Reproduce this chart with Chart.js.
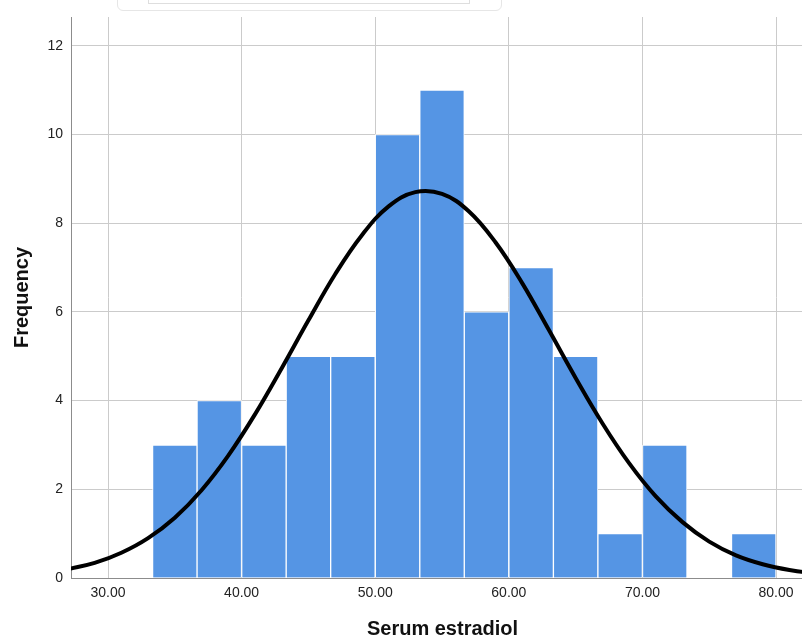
<!DOCTYPE html>
<html>
<head>
<meta charset="utf-8">
<script src="https://cdn.jsdelivr.net/npm/chart.js@4"></script>
<style>
  html, body { margin: 0; padding: 0; background: #fff; }
  #wrap { position: relative; width: 802px; height: 641px; overflow: hidden; }
  #chart { position: absolute; left: 0; top: 0; }
  .ghost { position: absolute; border: 1px solid #e6e6e6; }
</style>
</head>
<body>
<div id="wrap">
  <div class="ghost" style="left:117px; top:-12px; width:383px; height:21px; border-radius:6px;"></div>
  <div class="ghost" style="left:148px; top:-6px; width:320px; height:8px; border-color:#dedede;"></div>
  <canvas id="chart" width="814" height="641"></canvas>
</div>
<script>
// histogram bins (centres) and counts
const binCenters = [35, 38.33, 41.67, 45, 48.33, 51.67, 55, 58.33, 61.67, 65, 68.33, 71.67, 75, 78.33];
const binCounts = [3, 4, 3, 5, 5, 10, 11, 6, 7, 5, 1, 3, 0, 1];

// normal curve
const curveX = [27, 29, 31, 33, 35, 37, 39, 41, 43, 45, 47, 49, 51, 53, 55, 57, 59, 61, 63, 65, 67, 69, 71, 73, 75, 77, 79, 81, 83];
const curveY = [0.20, 0.34, 0.57, 0.90, 1.36, 1.98, 2.76, 3.69, 4.73, 5.81, 6.85, 7.73, 8.38, 8.70, 8.66, 8.27, 7.57, 6.65, 5.59, 4.51, 3.49, 2.59, 1.84, 1.26, 0.82, 0.51, 0.31, 0.18, 0.10];

const xTicks = [30, 40, 50, 60, 70, 80];
const yTicks = [0, 2, 4, 6, 8, 10, 12];

const font = "'Liberation Sans', Arial, sans-serif";

new Chart(document.getElementById("chart"), {
  data: {
    datasets: [
      {
        type: "line",
        data: curveX.map((x, i) => ({ x: x, y: curveY[i] })),
        borderColor: "#000",
        borderWidth: 4,
        pointRadius: 0,
        tension: 0.4,
        fill: false,
        order: 0
      },
      {
        type: "bar",
        data: binCenters.map((x, i) => ({ x: x, y: binCounts[i] })),
        backgroundColor: "#5595e4",
        borderColor: "#ffffff",
        borderWidth: 1,
        barPercentage: 1,
        categoryPercentage: 1,
        order: 1
      }
    ]
  },
  options: {
    responsive: false,
    animation: false,
    layout: { padding: { top: 17, left: 0, right: 0, bottom: 0 } },
    plugins: { legend: { display: false }, tooltip: { enabled: false } },
    scales: {
      x: {
        type: "linear",
        min: 27.23,
        max: 82.84,
        offset: false,
        afterBuildTicks: axis => { axis.ticks = xTicks.map(v => ({ value: v })); },
        afterFit: axis => { axis.height = 63; },
        grid: { color: "#cbcbcb", lineWidth: 1, drawTicks: false, offset: false },
        border: { display: true, color: "#8c8c8c", width: 1 },
        ticks: {
          color: "#222",
          font: { family: font, size: 14 },
          padding: 7,
          maxRotation: 0,
          callback: v => v.toFixed(2)
        },
        title: {
          display: true,
          text: "Serum estradiol",
          color: "#111",
          font: { family: font, size: 20, weight: "bold" },
          padding: { top: 0, bottom: 0 }
        }
      },
      y: {
        min: 0,
        max: 12.65,
        afterBuildTicks: axis => { axis.ticks = yTicks.map(v => ({ value: v })); },
        afterFit: axis => { axis.width = 71; },
        grid: { color: "#cbcbcb", lineWidth: 1, drawTicks: false },
        border: { display: true, color: "#8c8c8c", width: 1 },
        ticks: {
          color: "#222",
          font: { family: font, size: 14 },
          padding: 8
        },
        title: {
          display: true,
          text: "Frequency",
          color: "#111",
          font: { family: font, size: 20, weight: "bold" },
          padding: { top: 10, bottom: 0 }
        }
      }
    }
  }
});
</script>
</body>
</html>
